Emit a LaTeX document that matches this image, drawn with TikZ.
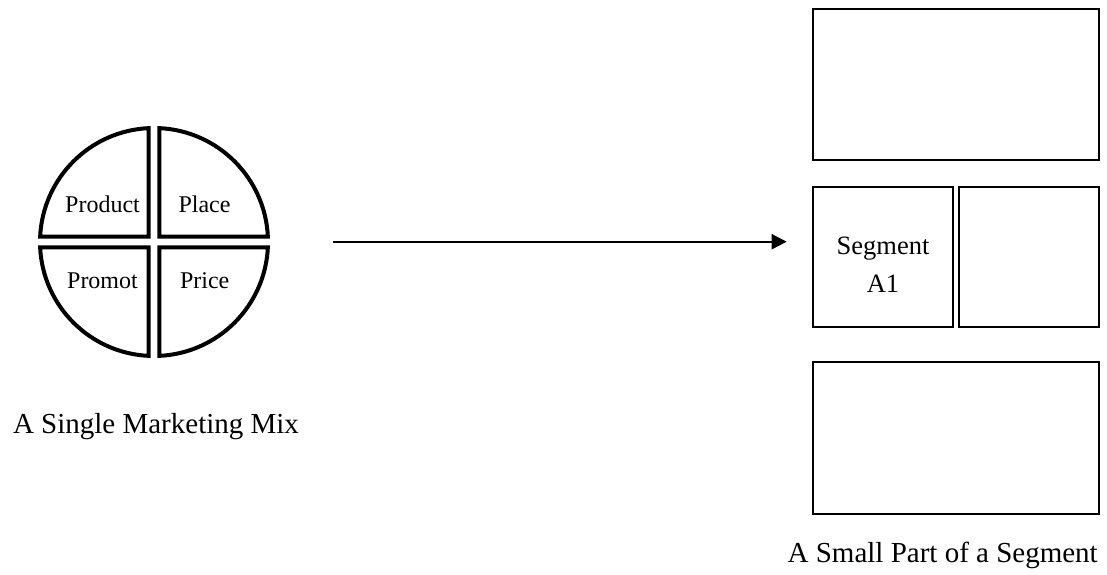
\documentclass[tikz,border=0pt]{standalone}
\usepackage{fontspec}
\setmainfont{Liberation Serif}
\usetikzlibrary{arrows.meta}

\tikzset{
  quad/.style={line width=4pt, line join=miter},
  segbox/.style={draw, line width=1.5pt, inner sep=0pt, outer sep=0pt},
  quadtext/.style={anchor=base, inner sep=0pt, font=\fontsize{24}{28}\selectfont},
  captext/.style={anchor=base, inner sep=0pt, font=\fontsize{29}{34}\selectfont},
  segtext/.style={anchor=base, inner sep=0pt, font=\fontsize{26.5}{32}\selectfont},
  flow/.style={line width=2pt, -{Triangle[length=15pt, width=15pt]}}
}

\begin{document}
\begin{tikzpicture}[x=1pt, y=1pt]
  \useasboundingbox (0,0) rectangle (1107,574);

  % marketing mix wheel: four quarter discs around one centre
  \coordinate (mix) at (154,332);
  \def\R{114pt}
  \def\g{5.3}
  \draw[quad] ([shift={(-\g,\g)}]mix) -- ([shift={(mix)}]92.66:\R)
    arc[start angle=92.66, end angle=177.34, radius=\R] -- cycle;
  \draw[quad] ([shift={(\g,\g)}]mix) -- ([shift={(mix)}]2.66:\R)
    arc[start angle=2.66, end angle=87.34, radius=\R] -- cycle;
  \draw[quad] ([shift={(-\g,-\g)}]mix) -- ([shift={(mix)}]182.66:\R)
    arc[start angle=182.66, end angle=267.34, radius=\R] -- cycle;
  \draw[quad] ([shift={(\g,-\g)}]mix) -- ([shift={(mix)}]272.66:\R)
    arc[start angle=272.66, end angle=357.34, radius=\R] -- cycle;

  \node[quadtext] (product) at (102.5,361.3) {Product};
  \node[quadtext] (place)   at (204.5,361.3) {Place};
  \node[quadtext] (promot)  at (102.5,286)   {Promot};
  \node[quadtext] (price)   at (204.7,286)   {Price};

  \node[captext] (mixcap) at (156,141) {A Single Marketing Mix};

  % segment blocks
  \node[segbox, minimum width=286pt, minimum height=151pt] (segtop) at (956,489.5) {};
  \node[segbox, minimum width=140pt, minimum height=140pt] (segA)   at (883,317)   {};
  \node[segbox, minimum width=140pt, minimum height=140pt] (segB)   at (1029,317)  {};
  \node[segbox, minimum width=286pt, minimum height=152pt] (segbot) at (956,136)   {};

  \node[segtext] (segname) at (883,320) {Segment};
  \node[segtext] (segid)   at (883,282) {A1};

  \node[captext] (segcap) at (942.7,11.3) {A Small Part of a Segment};

  % arrow from the mix to the segment
  \coordinate (flowS) at (333,332.3);
  \coordinate (flowE) at (786.7,332.3);
  \draw[flow] (flowS) -- (flowE);
\end{tikzpicture}
\end{document}
